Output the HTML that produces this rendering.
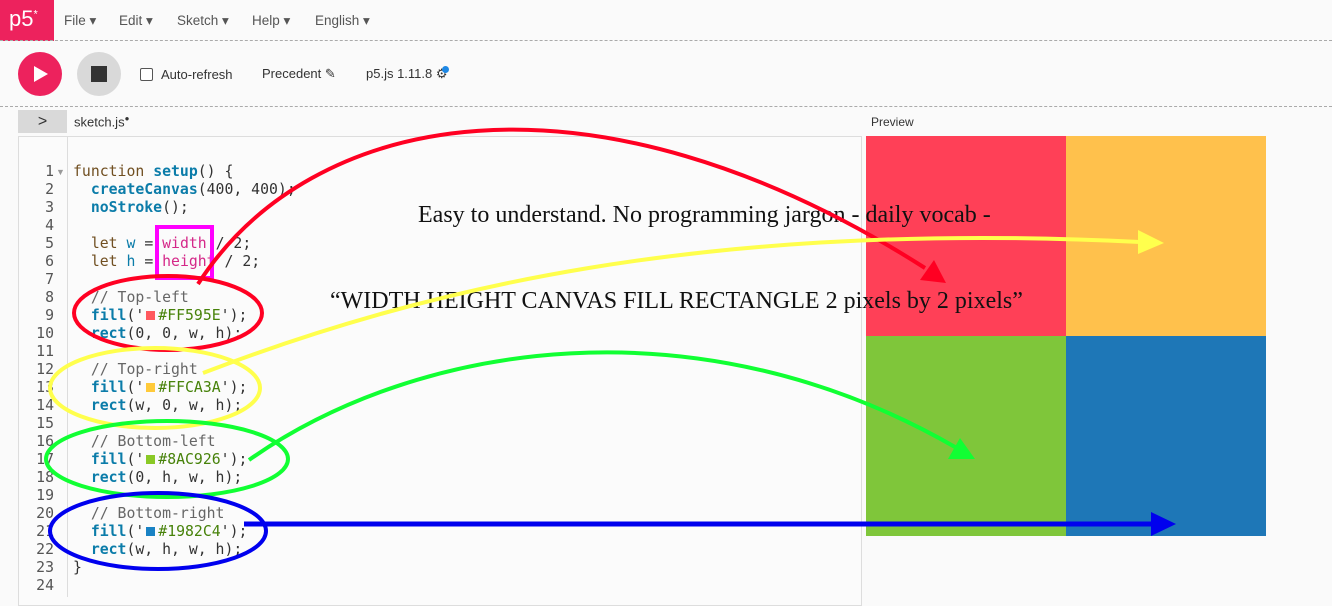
<!DOCTYPE html>
<html><head><meta charset="utf-8"><style>
*{margin:0;padding:0;box-sizing:border-box}
body{width:1332px;height:594px;overflow:hidden;background:#fafafa;font-family:"Liberation Sans",sans-serif;position:relative;color:#333}
.abs{position:absolute}
.menu{font-size:13.5px;color:#555;top:13px}
.code{position:absolute;left:73px;top:163px;font-family:"DejaVu Sans Mono","Liberation Mono",monospace;font-size:14.8px;line-height:18px;white-space:pre;color:#333}
.nums{position:absolute;left:20px;width:34px;top:163px;font-family:"DejaVu Sans Mono",monospace;font-size:14.8px;line-height:18px;text-align:right;color:#555;white-space:pre}
.k{color:#704f21}.f{color:#0b7ca9;font-weight:bold}.s{color:#47820a}.c{color:#666}.v{color:#0b7ca9}.m{color:#d52889}
.sw{display:inline-block;width:9px;height:9px;vertical-align:0px;margin:0 3px 0 2px}
</style></head><body>
<div class="abs" style="left:0;top:0;width:54px;height:41px;background:#ed225d;color:#fff;font-size:22px;padding:6px 0 0 9px">p5<sup style="font-size:11px">*</sup></div>
<div class="abs menu" style="left:64px">File ▾</div>
<div class="abs menu" style="left:119px">Edit ▾</div>
<div class="abs menu" style="left:177px">Sketch ▾</div>
<div class="abs menu" style="left:252px">Help ▾</div>
<div class="abs menu" style="left:315px">English ▾</div>
<div class="abs" style="left:0;top:40px;width:1332px;border-top:1px dashed #aaa"></div>
<div class="abs" style="left:18px;top:52px;width:44px;height:44px;border-radius:50%;background:#ed225d"></div>
<div class="abs" style="left:34px;top:66px;width:0;height:0;border-left:14px solid #fff;border-top:8px solid transparent;border-bottom:8px solid transparent"></div>
<div class="abs" style="left:77px;top:52px;width:44px;height:44px;border-radius:50%;background:#d9d9d9"></div>
<div class="abs" style="left:91px;top:66px;width:16px;height:16px;background:#333"></div>
<div class="abs" style="left:140px;top:68px;width:13px;height:13px;border:1px solid #555;border-radius:2px;background:#fff"></div>
<div class="abs" style="left:161px;top:67px;font-size:13px;color:#333">Auto-refresh</div>
<div class="abs" style="left:262px;top:66px;font-size:13px;color:#333">Precedent ✎</div>
<div class="abs" style="left:366px;top:66px;font-size:13px;color:#333">p5.js 1.11.8 ⚙</div>
<div class="abs" style="left:442px;top:66px;width:7px;height:7px;border-radius:50%;background:#1e88e5"></div>
<div class="abs" style="left:0;top:106px;width:1332px;border-top:1px dashed #aaa"></div>
<div class="abs" style="left:18px;top:110px;width:49px;height:23px;background:#d9d9d9;font-size:16px;text-align:center;line-height:23px;color:#333">&gt;</div>
<div class="abs" style="left:74px;top:114px;font-size:13px;color:#333">sketch.js<sup style="font-size:8px">●</sup></div>
<div class="abs" style="left:871px;top:115px;font-size:12px;color:#333">Preview</div>
<div class="abs" style="left:18px;top:136px;width:844px;height:470px;background:#fbfbfb;border:1px solid #ddd"></div>
<div class="abs" style="left:67px;top:137px;width:1px;height:460px;background:#ddd"></div>
<div class="nums">1
2
3
4
5
6
7
8
9
10
11
12
13
14
15
16
17
18
19
20
21
22
23
24</div>
<div class="abs" style="left:56px;top:167px;color:#999;font-size:9px">▼</div>
<div class="code"><span class="k">function</span> <span class="f">setup</span>() {
  <span class="f">createCanvas</span>(400, 400);
  <span class="f">noStroke</span>();

  <span class="k">let</span> <span class="v">w</span> = <span class="m">width</span> / 2;
  <span class="k">let</span> <span class="v">h</span> = <span class="m">height</span> / 2;

  <span class="c">// Top-left</span>
  <span class="f">fill</span>('<span class="sw" style="background:#ff595e"></span><span class="s">#FF595E</span>');
  <span class="f">rect</span>(0, 0, w, h);

  <span class="c">// Top-right</span>
  <span class="f">fill</span>('<span class="sw" style="background:#ffca3a"></span><span class="s">#FFCA3A</span>');
  <span class="f">rect</span>(w, 0, w, h);

  <span class="c">// Bottom-left</span>
  <span class="f">fill</span>('<span class="sw" style="background:#8ac926"></span><span class="s">#8AC926</span>');
  <span class="f">rect</span>(0, h, w, h);

  <span class="c">// Bottom-right</span>
  <span class="f">fill</span>('<span class="sw" style="background:#1982c4"></span><span class="s">#1982C4</span>');
  <span class="f">rect</span>(w, h, w, h);
}
</div>
<div class="abs" style="left:866px;top:136px;width:200px;height:200px;background:#ff4057"></div>
<div class="abs" style="left:1066px;top:136px;width:200px;height:200px;background:#ffc14c"></div>
<div class="abs" style="left:866px;top:336px;width:200px;height:200px;background:#7fc63a"></div>
<div class="abs" style="left:1066px;top:336px;width:200px;height:200px;background:#1e77b7"></div>
<div class="abs" style="left:418px;top:202px;font-family:'Liberation Serif',serif;font-size:24px;color:#111;white-space:nowrap">Easy to understand. No programming jargon - daily vocab -</div>
<div class="abs" style="left:330px;top:288px;font-family:'Liberation Serif',serif;font-size:24px;color:#111;white-space:nowrap">“WIDTH HEIGHT CANVAS FILL RECTANGLE 2 pixels by 2 pixels”</div>
<svg class="abs" style="left:0;top:0" width="1332" height="594">
<rect x="157" y="227" width="55" height="51" fill="none" stroke="#ff00ff" stroke-width="4"/>
<ellipse cx="168" cy="313" rx="94" ry="37" fill="none" stroke="#ff0022" stroke-width="4"/>
<ellipse cx="155" cy="388" rx="105" ry="40" fill="none" stroke="#ffff4d" stroke-width="4"/>
<ellipse cx="167" cy="459" rx="121" ry="38" fill="none" stroke="#11ff33" stroke-width="4"/>
<ellipse cx="158" cy="531" rx="108" ry="38" fill="none" stroke="#0000ee" stroke-width="4"/>
<path d="M198,284 C310,110 590,55 925,268" fill="none" stroke="#ff0022" stroke-width="4"/>
<polygon points="946,283 920,280 934,260" fill="#ff0022"/>
<path d="M203,373 C420,290 700,220 1140,242" fill="none" stroke="#ffff4d" stroke-width="4"/>
<polygon points="1164,243 1138,230 1138,254" fill="#ffff4d"/>
<path d="M249,460 C420,340 700,300 955,447" fill="none" stroke="#11ff33" stroke-width="4"/>
<polygon points="975,459 948,459 960,438" fill="#11ff33"/>
<line x1="244" y1="524" x2="1155" y2="524" stroke="#0000ee" stroke-width="5"/>
<polygon points="1176,524 1151,512 1151,536" fill="#0000ee"/>
</svg>
</body></html>
